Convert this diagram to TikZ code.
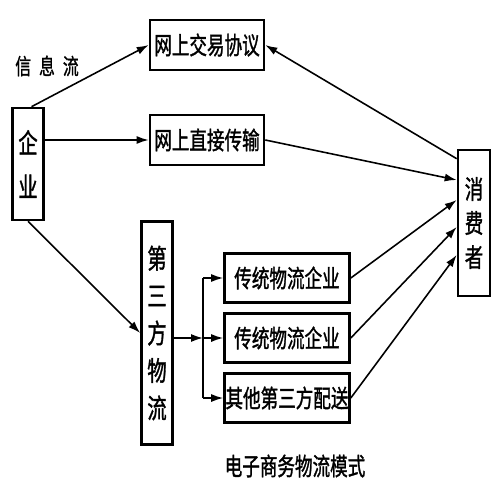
\documentclass[tikz,border=0pt]{standalone}
\usepackage{fontspec}
\setmainfont{Noto Sans CJK SC}
\newfontfamily\heavy{Noto Sans CJK SC}[FakeBold=1.5]
\usetikzlibrary{
    positioning,
    arrows.meta
}
\newcommand{\tall}[1]{\scalebox{1}[1.4]{#1}}
\tikzset{
    box/.style={draw, line width=1.5pt, inner sep=0pt, fill=white},
    hbox/.style={box, minimum width=2.28cm, minimum height=1cm, font=\heavy\fontsize{10}{12}\selectfont},
    lbox/.style={box, minimum width=2.5cm, minimum height=0.98cm, font=\heavy\fontsize{10}{12}\selectfont},
    vbox/.style={box, minimum width=0.62cm, align=center},
    arr/.style={-{Latex[length=2.4mm,width=1.6mm]}, line width=0.9pt}
}

\begin{document}
\begin{tikzpicture}[x=0.02cm, y=-0.02cm]
            \useasboundingbox (0,0) rectangle (500,500);
            % boxes
            \node[vbox, minimum height=2.24cm, font=\heavy\fontsize{11}{25}\selectfont] (qiye) at (28,164) {\tall{企}\\\tall{业}};
            \node[hbox] (jiaoyi) at (207,45) {\tall{网上交易协议}};
            \node[hbox] (zhijie) at (207,140) {\tall{网上直接传输}};
            \node[vbox, minimum height=4.46cm, font=\heavy\fontsize{11}{21.3}\selectfont] (wuliu) at (157,333) {\tall{第}\\\tall{三}\\\tall{方}\\\tall{物}\\\tall{流}};
            \node[lbox] (chuan1) at (287,278) {\tall{传统物流企业}};
            \node[lbox] (chuan2) at (287,338) {\tall{传统物流企业}};
            \node[lbox] (qita) at (287,398) {\tall{其他第三方配送}};
            \node[vbox, minimum width=0.64cm, minimum height=2.92cm, font=\heavy\fontsize{10.5}{19.4}\selectfont] (xiaofei) at (474,223) {\tall{消}\\\tall{费}\\\tall{者}};
            \node[font=\heavy\fontsize{9}{11}\selectfont] (xinxi) at (47,66) {\tall{信\hspace{1.6mm}息\hspace{1.6mm}流}};
            \node[font=\heavy\fontsize{10}{12}\selectfont] (title) at (295,466) {\tall{电子商务物流模式}};
            \coordinate (fen) at (203,338);
            % information flow
            \draw[arr] ([xshift=2pt]qiye.north) -- (jiaoyi.west);
            \draw[arr] ([yshift=-0.2cm]xiaofei.north west) -- (jiaoyi.east);
            \draw[arr] (qiye.east |- zhijie.west) -- (zhijie.west);
            \draw[arr] (zhijie.east) -- ([yshift=0.86cm]xiaofei.west);
            % logistics flow
            \draw[arr] (qiye.south) -- (wuliu.west);
            \draw[arr] (wuliu.east |- fen) -- (fen);
            \draw[line width=0.9pt] (fen |- chuan1) -- (fen |- qita);
            \draw[arr] (fen |- chuan1) -- (chuan1.west);
            \draw[arr] (fen) -- (chuan2.west);
            \draw[arr] (fen |- qita) -- (qita.west);
            \draw[arr] (chuan1.east) -- ([yshift=0.46cm]xiaofei.west);
            \draw[arr] (chuan2.east) -- ([yshift=-0.08cm]xiaofei.west);
            \draw[arr] (qita.east) -- ([yshift=-0.64cm]xiaofei.west);
        \end{tikzpicture}
\end{document}
